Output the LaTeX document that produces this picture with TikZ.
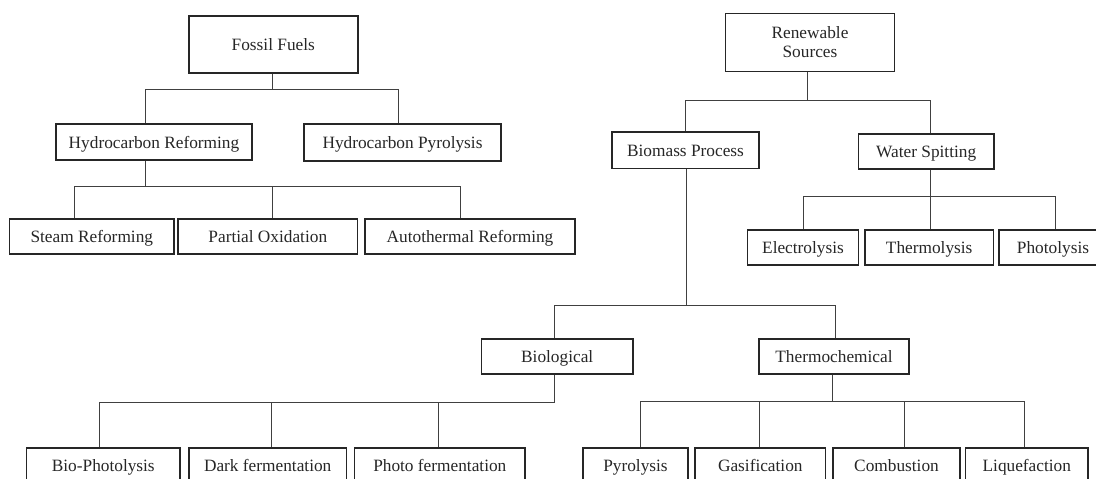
\documentclass[tikz,border=0pt]{standalone}
\usepackage{fontspec}
\setmainfont{Liberation Serif}
\begin{document}
\begin{tikzpicture}[x=0.025cm,y=-0.025cm,
    box/.style={draw=black!85,line width=1pt,inner sep=0pt,
      minimum height=35*0.025cm,align=center,text=black!85,
      text height=9pt,text depth=0pt,
      font=\fontsize{12.3}{13.5}\selectfont},
    link/.style={draw=black!75,line width=0.7pt}]
  \useasboundingbox (0,0) rectangle (1096,479);
  \node[box,minimum width=169*0.025cm,minimum height=57*0.025cm] (ff) at (273.3,44.5) {Fossil Fuels};
  \node[box,minimum width=169*0.025cm,minimum height=58*0.025cm,text height=,text depth=] (rs) at (810,42.5) {Renewable\\Sources};
  \node[box,minimum width=196*0.025cm,minimum height=36*0.025cm] (hr) at (154,142) {Hydrocarbon Reforming};
  \node[box,minimum width=197*0.025cm,minimum height=37*0.025cm] (hp) at (402.5,142.5) {Hydrocarbon Pyrolysis};
  \node[box,minimum width=164.5*0.025cm] (sr) at (91.8,236.5) {Steam Reforming};
  \node[box,minimum width=179.5*0.025cm] (po) at (267.8,236.5) {Partial Oxidation};
  \node[box,minimum width=210*0.025cm] (ar) at (470,236.5) {Autothermal Reforming};
  \node[box,minimum width=147*0.025cm,minimum height=36.7*0.025cm] (bp) at (685.5,150.3) {Biomass Process};
  \node[box,minimum width=135.6*0.025cm] (ws) at (926.2,151.3) {Water Spitting};
  \node[box,minimum width=111*0.025cm] (el) at (803,247.5) {Electrolysis};
  \node[box,minimum width=128.5*0.025cm] (th) at (929.2,247.5) {Thermolysis};
  \node[box,minimum width=108*0.025cm] (ph) at (1053,247.5) {Photolysis};
  \node[box,minimum width=151.6*0.025cm] (bio) at (557.2,356.5) {Biological};
  \node[box,minimum width=150*0.025cm] (thc) at (834,356.5) {Thermochemical};
  \node[box,minimum width=153.3*0.025cm] (bph) at (103.3,465.5) {Bio-Photolysis};
  \node[box,minimum width=157.4*0.025cm] (dark) at (267.7,465.5) {Dark fermentation};
  \node[box,minimum width=170.4*0.025cm] (photo) at (439.8,465.5) {Photo fermentation};
  \node[box,minimum width=105*0.025cm] (pyr) at (635.5,465.5) {Pyrolysis};
  \node[box,minimum width=130.7*0.025cm] (gas) at (760.3,465.5) {Gasification};
  \node[box,minimum width=127*0.025cm] (comb) at (896.5,465.5) {Combustion};
  \node[box,minimum width=122.5*0.025cm] (liq) at (1026.8,465.5) {Liquefaction};
  \coordinate (ffbus) at (272.5,89);
  \coordinate (hrbus) at (145,186);
  \coordinate (rsbus) at (807.7,100);
  \coordinate (bpbus) at (686,305.7);
  \coordinate (wsbus) at (930,196.7);
  \coordinate (biobus) at (554.6,402.7);
  \coordinate (thcbus) at (832,401);
  \begin{scope}[link]
    \draw (ffbus |- ff.south) -- (ffbus);
    \draw (ffbus) -| ([shift={(-9,0)}]hr.north);
    \draw (ffbus) -| ([shift={(-4.5,0)}]hp.north);
    \draw (hrbus |- hr.south) -- (hrbus);
    \draw (hrbus) -| ([shift={(-17,0)}]sr.north);
    \draw (hrbus) -| ([shift={(4.7,0)}]po.north);
    \draw (hrbus) -| ([shift={(-10,0)}]ar.north);
    \draw (rsbus |- rs.south) -- (rsbus);
    \draw (rsbus) -| (bp.north);
    \draw (rsbus) -| ([shift={(4,0)}]ws.north);
    \draw (wsbus |- ws.south) -- (wsbus);
    \draw (wsbus) -| (el.north);
    \draw (wsbus) -| ([shift={(0.8,0)}]th.north);
    \draw (wsbus) -| ([shift={(2,0)}]ph.north);
    \draw (bpbus |- bp.south) -- (bpbus);
    \draw (bpbus) -| ([shift={(-3,0)}]bio.north);
    \draw (bpbus) -| ([shift={(1,0)}]thc.north);
    \draw (biobus |- bio.south) -- (biobus);
    \draw (biobus) -| ([shift={(-4,0)}]bph.north);
    \draw (biobus) -| ([shift={(4,0)}]dark.north);
    \draw (biobus) -| ([shift={(-1,0)}]photo.north);
    \draw (thcbus |- thc.south) -- (thcbus);
    \draw (thcbus) -| ([shift={(4.5,0)}]pyr.north);
    \draw (thcbus) -| ([shift={(-1,0)}]gas.north);
    \draw (thcbus) -| ([shift={(7.5,0)}]comb.north);
    \draw (thcbus) -| ([shift={(-2,0)}]liq.north);
  \end{scope}
\end{tikzpicture}
\end{document}
